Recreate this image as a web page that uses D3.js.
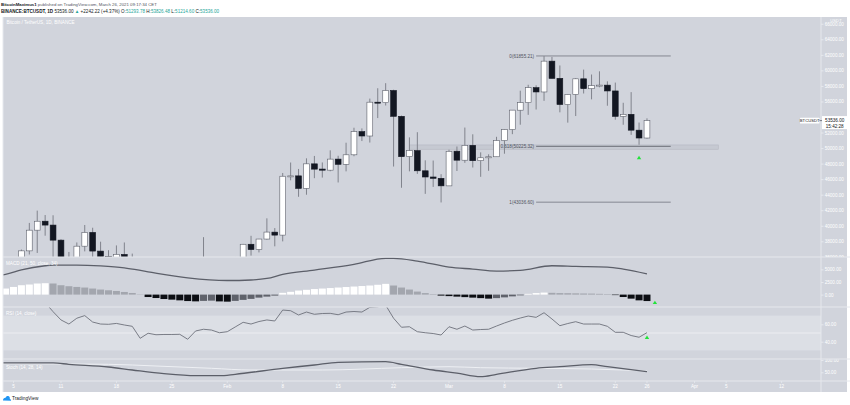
<!DOCTYPE html>
<html><head><meta charset="utf-8">
<script src="https://cdn.jsdelivr.net/npm/d3@7"></script>
<style>body{margin:0;background:#fff;}svg{display:block;font-family:"Liberation Sans",Arial,sans-serif;}</style>
</head><body><svg id="c" width="850" height="405"></svg>
<script>
// ---------- DATA ----------
const firstDay = "2021-01-01", lastDay = "2021-03-26";
const opens = [28923.63,29331.70,32176.45,33000.05,31989.75,33949.53,36769.36,39432.48,40586.96,40088.22,
38150.02,35410.37,34049.15,37371.38,39145.21,36737.43,36025.72,35547.74,36312.56,35538.98,
35406.34,30851.99,32950.00,32078.00,32259.45,32254.19,32464.01,30362.19,33368.18,34246.28,
34262.89,33092.97,33517.09,35472.71,37620.26,36936.65,38289.32,39181.01,38795.69,46374.86,
46420.42,44807.58,47968.66,47298.15,47156.78,48580.47,47911.10,49133.45,52117.67,51552.61,
55906.00,55841.19,57412.35,54087.67,48891.00,49676.21,47073.73,46276.88,46103.67,45134.11,
49595.76,48436.61,50349.37,48374.09,48746.81,48882.20,50959.11,52375.18,54874.67,55851.59,
57773.15,57221.72,61188.38,58976.08,55605.20,56900.74,58912.97,57641.00,58030.01,58100.02,
57351.56,54083.25,54342.80,52303.66,51293.78];
const highs = [29600.00,33300.00,34778.11,33600.00,34360.00,36939.21,40365.00,41950.00,41380.00,41350.00,
38264.74,36628.00,37850.00,40100.00,39747.76,37950.00,36852.50,37469.83,37850.00,36415.31,
35600.00,33826.53,33456.00,32944.00,34880.00,32921.88,32557.29,33783.98,38531.90,34933.00,
34342.69,34717.27,35984.33,37662.63,38708.27,38310.12,40955.51,39700.00,46794.45,48142.19,
47310.00,48678.90,48985.80,48150.00,49707.43,49010.92,50689.18,52618.74,52530.00,56368.00,
57700.46,58352.80,57508.47,54183.59,51374.99,52041.73,48424.11,48394.00,46638.46,49790.00,
50200.00,52640.00,51773.88,49448.93,49200.00,51450.03,52402.78,54895.00,57387.69,58150.00,
58081.51,61844.00,61724.79,60633.43,56938.29,58996.38,60100.00,59468.00,59880.00,58589.10,
58430.73,55830.90,57200.00,53287.00,53826.48];
const lows = [28624.57,28946.53,31962.99,28130.00,29900.00,33288.00,36300.00,36500.00,38720.00,35111.11,
30420.00,32531.00,32380.00,36701.23,34408.00,35357.80,33850.00,34800.00,35000.00,33400.00,
30071.00,28850.00,31390.16,31106.00,32200.00,30837.37,29241.72,29842.10,31915.40,32825.00,
32171.67,32296.16,33418.00,35362.38,36161.95,36570.00,38215.94,37351.00,37988.89,45850.00,
43727.00,43994.02,46125.00,46202.53,47014.17,45570.79,47003.62,48947.00,50901.90,50710.20,
53863.93,55477.59,47622.00,44892.56,47003.11,46674.34,44106.78,45000.00,43000.00,45115.09,
47047.60,48100.71,47500.00,46300.00,47070.00,48882.20,49274.67,51789.41,53005.00,54272.82,
54962.84,56078.23,58966.78,54600.00,53271.34,54123.69,57023.00,56270.74,57820.17,55450.11,
53650.00,53000.00,51700.00,50427.56,51214.60];
const closes = [29331.69,32178.33,33000.05,31988.71,33949.53,36769.36,39432.28,40582.81,40088.22,38150.02,
35404.47,34051.24,37371.38,39144.50,36742.22,36018.52,35547.75,36312.56,35538.98,35406.34,
30850.13,32945.17,32078.00,32259.90,32254.20,32467.77,30366.15,33364.86,34252.20,34262.88,
33092.98,33526.37,35466.24,37618.87,36936.66,38290.24,39186.94,38795.69,46374.87,46420.42,
44807.58,47969.51,47287.60,47153.69,48577.79,47911.10,49133.45,52119.71,51552.60,55906.00,
55841.19,57408.57,54087.67,48891.00,49676.20,47073.73,46276.87,46106.43,45135.66,49587.03,
48440.65,50349.37,48374.09,48751.71,48882.20,50971.75,52375.17,54884.50,55851.59,57773.16,
57221.72,61188.39,58968.31,55605.20,56900.75,58912.97,57648.16,58030.01,58102.28,57351.56,
54083.25,54340.89,52303.65,51293.78,53536.00];

// MACD histogram (one per day)
const macdHist = [500,750,1000,1200,1520,1860,2000,2200,2260,2200,
1860,1660,1520,1400,1200,1000,860,720,520,320,
60,-480,-680,-880,-1000,-1140,-1280,-1340,-1250,-1200,
-1350,-1400,-1250,-1050,-850,-600,-400,-200,350,550,
800,950,1100,1200,1300,1400,1500,1600,1700,1800,
1950,2130,1800,1400,1000,600,300,100,-200,-300,
-400,-500,-600,-700,-800,-700,-550,-350,-150,150,
300,400,350,300,280,250,220,200,150,100,
-100,-480,-800,-1140,-1280];
// MACD line (read at selected days)
const macdDates = ["2021-01-03","2021-01-04","2021-01-06","2021-01-09","2021-01-10","2021-01-13","2021-01-16","2021-01-19","2021-01-22","2021-01-27","2021-02-01","2021-02-04","2021-02-06","2021-02-08","2021-02-12","2021-02-17","2021-02-21","2021-02-22","2021-02-25","2021-03-01","2021-03-04","2021-03-07","2021-03-10","2021-03-14","2021-03-17","2021-03-21","2021-03-23","2021-03-26"];
const macdLine = [3800,4000,4900,5720,5860,5860,5700,5320,4520,3320,2800,2900,3200,4000,4860,6000,7200,7200,6660,5460,5060,4660,4800,5720,5600,5460,5060,4120];

// RSI from 2021-01-09 to 2021-03-26
const rsiStart = "2021-01-09";
const rsiValues = [85,74.5,65,60.3,67,70,62.6,60.3,60,61,
59.2,57.7,43.9,49.7,48,48.3,48.3,48.5,42.8,52.3,
54.3,53.4,50.3,51.5,56.9,62.3,60.3,63.2,65,63.8,
76.4,75.6,70.7,74.1,71.5,72.4,72.6,71,74.1,74.7,
74.1,79.5,80.2,82,67,56.6,57.2,51.5,50.3,49.4,
47.7,57.2,54.3,58,53.4,54,54.3,58,61.5,64.6,
67.2,69.5,68,73.3,66.1,58.4,60.9,63,60.3,60.3,
60.3,57.7,50.8,50.8,47.1,45.1,50.4];

// Stoch
const stochKDates = ["2021-01-03","2021-01-10","2021-01-12","2021-01-17","2021-01-20","2021-01-24","2021-01-28","2021-01-31","2021-02-02","2021-02-08","2021-02-12","2021-02-15","2021-02-21","2021-02-23","2021-02-27","2021-03-02","2021-03-05","2021-03-07","2021-03-12","2021-03-15","2021-03-19","2021-03-21","2021-03-26"];
const stochK = [88,88,82.5,71.5,59.3,44.3,36.2,36.2,41.9,66.3,79.7,90.7,93,82.5,59.3,46.3,32.1,41.9,66.3,72.8,81.5,72.8,52.4];
const stochDDates = ["2021-01-03","2021-01-17","2021-01-23","2021-01-30","2021-02-04","2021-02-13","2021-02-23","2021-03-01","2021-03-05","2021-03-12","2021-03-19","2021-03-26"];
const stochD = [85,82.5,75.6,66.3,59.3,59.3,68.7,72.8,68.7,66.3,63.4,55.3];

// Fibonacci
const fibLevels = ["0","0.618","1"];
const fibPrices = [61855.21,50225.32,43036.60];
const fibRange = ["2021-03-12","2021-03-29"];
const zoneRange = ["2021-02-24","2021-04-04"];
const zonePrices = [49850,50400];

// Ticks (54000 sits under the last-price label)
const priceTicks = [36000,38000,40000,42000,44000,46000,48000,50000,52000,56000,58000,60000,62000,64000,66000];
const macdTicks = [0,2500,5000];
const rsiTicks = [40,60];
const stochTicks = [50,100];
const timeTickDates = ["2021-01-05","2021-01-11","2021-01-18","2021-01-25","2021-02-01","2021-02-08","2021-02-15","2021-02-22","2021-03-01","2021-03-08","2021-03-15","2021-03-22","2021-03-26","2021-04-01","2021-04-05","2021-04-12"];
const timeTickLabels = ["5","11","18","25","Feb","8","15","22","Mar","8","15","22","26","Apr","5","12"];

// Signal arrows
const arrowPrice = {date:"2021-03-25", value:48770};
const arrowMacd = {date:"2021-03-27", value:-1560};
const arrowRsi = {date:"2021-03-26", value:45};

// ---------- DRAW ----------
const P = d3.utcParse("%Y-%m-%d");
const svg = d3.select("#c");
const L = 3, R = 821, T = 17, B = 392;
const panes = {price:[T,257], macd:[257,307], rsi:[307,359], stoch:[359,381]};
const BG = "#d1d4dc", SEP = "#e6e8ed", TXT = "#ffffff";

const x = d3.scaleUtc().domain([P("2021-01-01"), P("2021-04-12")]).range([-18.2, 781.6]);
const yP = d3.scaleLinear().domain([38000,64000]).range([241.3,39.3]);
const yM = d3.scaleLinear().domain([0,5000]).range([294.6,269.4]);
const yR = d3.scaleLinear().domain([40,60]).range([341.7,324.3]);
const yS = d3.scaleLinear().domain([50,100]).range([372.3,360]);

const days = d3.utcDay.range(P(firstDay), d3.utcDay.offset(P(lastDay),1));

svg.append("rect").attr("x",L).attr("y",T).attr("width",847-L).attr("height",B-T).attr("fill",BG);

const defs = svg.append("defs");
function clip(id,x0,y0,x1,y1){defs.append("clipPath").attr("id",id).append("rect").attr("x",x0).attr("y",y0).attr("width",x1-x0).attr("height",y1-y0);return "url(#"+id+")";}
const cP = clip("cp",L,panes.price[0],R,panes.price[1]);
const cM = clip("cm",L,panes.macd[0],R,panes.macd[1]);
const cR = clip("cr",L,panes.rsi[0],R,panes.rsi[1]);
const cS = clip("cs",L,panes.stoch[0],R,panes.stoch[1]);
const aP = clip("ap",R,panes.price[0],850,panes.price[1]);
const aM = clip("am",R,panes.macd[0]+0.5,850,panes.macd[1]);
const aR = clip("ar",R,panes.rsi[0],850,panes.rsi[1]);
const aS = clip("as",R,panes.stoch[0]+0.5,850,panes.stoch[1]);

// RSI band
const gR = svg.append("g").attr("clip-path",cR);
gR.append("rect").attr("x",L).attr("width",R-L).attr("y",yR(70)).attr("height",yR(30)-yR(70)).attr("fill","#dcdfe5");
gR.append("line").attr("x1",L).attr("x2",R).attr("y1",yR(50)).attr("y2",yR(50)).attr("stroke","#eceef2").attr("stroke-width",1.2);

// Price pane
const gP = svg.append("g").attr("clip-path",cP);
gP.append("rect").attr("x",x(P(zoneRange[0]))).attr("width",x(P(zoneRange[1]))-x(P(zoneRange[0])))
  .attr("y",yP(zonePrices[1])).attr("height",yP(zonePrices[0])-yP(zonePrices[1]))
  .attr("fill","#c3c6cf").attr("fill-opacity",0.8).attr("stroke","#b4b7c0").attr("stroke-width",0.6);
fibPrices.forEach((p,i)=>{
  gP.append("line").attr("x1",x(P(fibRange[0]))).attr("x2",x(P(fibRange[1]))).attr("y1",yP(p)).attr("y2",yP(p))
    .attr("stroke","#7d8089").attr("stroke-width",i===1?1.3:0.9);
  gP.append("text").attr("x",x(P(fibRange[0]))-2).attr("y",yP(p)+1.6).attr("text-anchor","end")
    .attr("font-size",4.6).attr("fill","#50535e").text(fibLevels[i]+"("+p.toFixed(2)+")");
});
const cw = 5.8;
const cg = gP.selectAll("g.c").data(days).join("g");
cg.append("line").attr("x1",(d)=>x(d)).attr("x2",(d)=>x(d))
  .attr("y1",(d,i)=>yP(highs[i])).attr("y2",(d,i)=>yP(lows[i])).attr("stroke","#80838c").attr("stroke-width",1);
cg.append("rect").attr("x",(d)=>x(d)-cw/2).attr("width",cw)
  .attr("y",(d,i)=>yP(Math.max(opens[i],closes[i])))
  .attr("height",(d,i)=>Math.max(1,Math.abs(yP(opens[i])-yP(closes[i]))))
  .attr("fill",(d,i)=>closes[i]>=opens[i]?"#ffffff":"#131722")
  .attr("stroke",(d,i)=>closes[i]>=opens[i]?"#5d606b":"#131722").attr("stroke-width",0.6);

function tri(g,cx,cy){g.append("path").attr("d",`M${cx-2.2},${cy+1.6}L${cx+2.2},${cy+1.6}L${cx},${cy-1.8}Z`).attr("fill","#22e33a");}
tri(gP, x(P(arrowPrice.date)), yP(arrowPrice.value));

// MACD pane
const gM = svg.append("g").attr("clip-path",cM);
gM.selectAll("rect.h").data(days).join("rect")
  .attr("x",(d)=>x(d)-3.5).attr("width",7)
  .attr("y",(d,i)=>yM(Math.max(0,macdHist[i]))).attr("height",(d,i)=>Math.abs(yM(macdHist[i])-yM(0)))
  .attr("fill",(d,i)=>{const v=macdHist[i],p=i>0?macdHist[i-1]:v; if(v>=0) return v>=p?"#ffffff":"#a3a6ae"; return v<p?"#0c0e13":"#5f626b";});
gM.append("path").datum(macdDates.map((d,i)=>[x(P(d)),yM(macdLine[i])]))
  .attr("d",d3.line().curve(d3.curveMonotoneX)).attr("fill","none").attr("stroke","#5c5f69").attr("stroke-width",1.3);
tri(svg, x(P(arrowMacd.date)), yM(arrowMacd.value));

// RSI line
gR.append("path").datum(rsiValues.map((v,i)=>[x(d3.utcDay.offset(P(rsiStart),i)),yR(v)]))
  .attr("d",d3.line()).attr("fill","none").attr("stroke","#6d707a").attr("stroke-width",0.9);
tri(gR, x(P(arrowRsi.date)), yR(arrowRsi.value));

// Stoch
const gS = svg.append("g").attr("clip-path",cS);
gS.append("path").datum(stochDDates.map((d,i)=>[x(P(d)),yS(stochD[i])]))
  .attr("d",d3.line().curve(d3.curveMonotoneX)).attr("fill","none").attr("stroke","#eef0f4").attr("stroke-width",1);
gS.append("path").datum(stochKDates.map((d,i)=>[x(P(d)),yS(stochK[i])]))
  .attr("d",d3.line().curve(d3.curveMonotoneX)).attr("fill","none").attr("stroke","#5c5f69").attr("stroke-width",1.3);

// separators
[257,307,359,381].forEach(y=>svg.append("line").attr("x1",L).attr("x2",850).attr("y1",y).attr("y2",y).attr("stroke",SEP).attr("stroke-width",1));
svg.append("line").attr("x1",R).attr("x2",R).attr("y1",T).attr("y2",B).attr("stroke",SEP).attr("stroke-width",1);
svg.append("line").attr("x1",L).attr("x2",L).attr("y1",T).attr("y2",B).attr("stroke",SEP).attr("stroke-width",1);

// right axes
function axis(scale,ticks,clipUrl){
  const outer = svg.append("g").attr("clip-path",clipUrl);
  const g = outer.append("g").attr("transform",`translate(${R},0)`)
    .call(d3.axisRight(scale).tickValues(ticks).tickFormat(d3.format(".2f")).tickSize(2.5).tickPadding(1.2));
  g.select(".domain").remove();
  g.selectAll("line").attr("stroke",SEP);
  g.selectAll("text").attr("font-size",4.6).attr("fill",TXT).attr("font-family","Liberation Sans, Arial");
}
axis(yP,priceTicks,aP); axis(yM,macdTicks,aM); axis(yR,rsiTicks,aR); axis(yS,stochTicks,aS);
svg.append("text").attr("x",836).attr("y",21.5).attr("text-anchor","middle").attr("font-size",4.2).attr("fill",TXT).text("USDT");

// last price label
const lp = closes[closes.length-1];
const ly = yP(lp);
svg.append("rect").attr("x",800).attr("y",ly-2.8).attr("width",19.5).attr("height",5.6).attr("fill","#ffffff").attr("rx",0.5);
svg.append("text").attr("x",809.7).attr("y",ly+1.5).attr("text-anchor","middle").attr("font-size",4.2).attr("fill","#131722").text("BTCUSDT");
svg.append("line").attr("x1",819.5).attr("x2",822).attr("y1",ly).attr("y2",ly).attr("stroke","#131722").attr("stroke-width",0.5);
svg.append("rect").attr("x",822).attr("y",ly-4.5).attr("width",25.5).attr("height",13).attr("fill","#ffffff");
svg.append("text").attr("x",834.7).attr("y",ly+1.5).attr("text-anchor","middle").attr("font-size",4.6).attr("fill","#131722").text(lp.toFixed(2));
svg.append("text").attr("x",834.7).attr("y",ly+7).attr("text-anchor","middle").attr("font-size",4.6).attr("fill","#131722").text("15:42:28");

// time axis
const tg = svg.append("g");
timeTickDates.forEach((d,i)=>{
  const xx = x(P(d));
  tg.append("line").attr("x1",xx).attr("x2",xx).attr("y1",381).attr("y2",383).attr("stroke",SEP).attr("stroke-width",0.8);
  tg.append("text").attr("x",xx).attr("y",388).attr("text-anchor","middle").attr("font-size",4.6).attr("fill",TXT).text(timeTickLabels[i]);
});

// pane titles
const lbl=(t,xx,yy)=>svg.append("text").attr("x",xx).attr("y",yy).attr("font-size",4.6).attr("fill",TXT).text(t);
lbl("Bitcoin / TetherUS, 1D, BINANCE",6.5,24);
lbl("MACD (21, 50, close, 34)",6,265);
lbl("RSI (14, close)",6,315);
lbl("Stoch (14, 28, 14)",6,368.5);

// header (font size fitted to the reference line widths)
function fit(t,w){const n=t.node().getComputedTextLength(); t.attr("font-size",5*w/n);}
const h1 = svg.append("text").attr("x",1).attr("y",6).attr("font-size",5).attr("fill","#131722");
h1.append("tspan").attr("font-weight","bold").text("BitcoinMaximus1");
h1.append("tspan").attr("fill","#50535e").text(" published on TradingView.com, March 26, 2021 09:17:34 CET");
fit(h1,156);
const h2 = svg.append("text").attr("x",1).attr("y",12.6).attr("font-size",5).attr("fill","#131722");
const G = "#26a69a";
h2.append("tspan").attr("font-weight","bold").text("BINANCE:BTCUSDT, 1D ");
h2.append("tspan").text("53536.00 ");
h2.append("tspan").attr("fill",G).text("▲ ");
h2.append("tspan").text("+2242.22 (+4.37%) O:");
h2.append("tspan").attr("fill",G).text("51293.78");
h2.append("tspan").text(" H:");
h2.append("tspan").attr("fill",G).text("53826.48");
h2.append("tspan").text(" L:");
h2.append("tspan").attr("fill",G).text("51214.60");
h2.append("tspan").text(" C:");
h2.append("tspan").attr("fill",G).text("53536.00");
fit(h2,219);

// footer logo
const lg = svg.append("g").attr("transform","translate(3,395)");
lg.append("path").attr("d","M0,5.5 C0,3.6 1.3,2.6 2.6,2.8 C3.1,1 4.6,0.5 5.8,1.3 C6.8,2 7,3.2 6.8,4 C7.8,4.1 8.3,5 8,5.8 Z").attr("fill","#2196f3");
lg.append("text").attr("x",9).attr("y",5.3).attr("font-size",4.8).attr("fill","#131722").text("TradingView");
</script></body></html>
